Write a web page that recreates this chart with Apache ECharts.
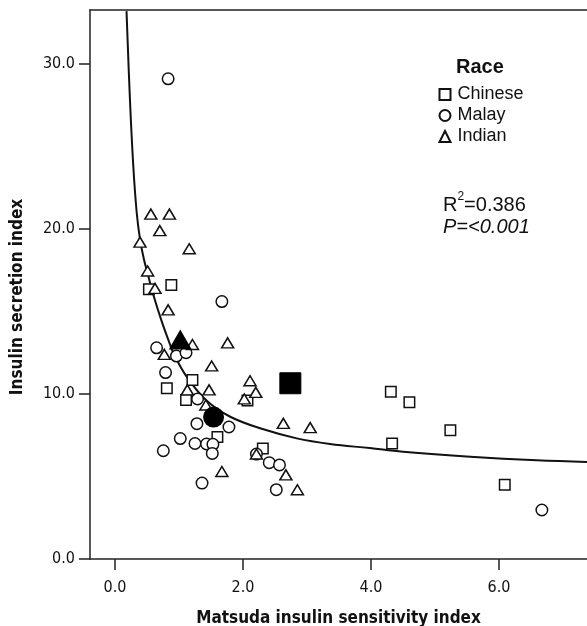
<!DOCTYPE html>
<html>
<head>
<meta charset="utf-8">
<script src="https://cdn.jsdelivr.net/npm/echarts@6/dist/echarts.min.js"></script>
<style>
html,body{margin:0;padding:0;background:#fff;}
#c{width:587px;height:626px;}
</style>
</head>
<body>
<div id="c"></div>
<script>
// ---- data ----
var xTicks = [0, 2, 4, 6];
var yTicks = [0, 10, 20, 30];
var chinese = [[0.53,16.35],[0.88,16.6],[1.21,10.85],[0.81,10.35],[1.11,9.64],[2.07,9.6],[1.60,7.4],[2.31,6.7],[4.31,10.14],[4.60,9.5],[5.24,7.8],[4.33,7.0],[6.09,4.5]];
var malay = [[0.83,29.1],[1.67,15.6],[0.65,12.8],[0.96,12.3],[1.11,12.5],[0.79,11.3],[1.29,9.7],[1.28,8.2],[1.78,8.0],[1.02,7.3],[1.25,7.0],[1.43,6.97],[1.53,6.95],[0.755,6.56],[1.52,6.4],[2.21,6.36],[2.41,5.84],[2.57,5.7],[1.36,4.6],[2.52,4.2],[6.67,2.97]];
var indian = [[0.56,20.9],[0.85,20.9],[0.70,19.9],[0.39,19.2],[1.16,18.8],[0.51,17.45],[0.625,16.4],[0.83,15.1],[1.21,13.0],[1.76,13.1],[0.77,12.4],[1.51,11.7],[2.11,10.8],[1.13,10.25],[1.47,10.25],[2.20,10.1],[2.02,9.7],[1.42,9.33],[2.63,8.22],[3.05,7.96],[2.21,6.36],[1.67,5.3],[2.67,5.1],[2.85,4.2]];
var meanChinese = [[2.74,10.65]];
var meanMalay = [[1.54,8.6]];
var meanIndian = [[1.02,13.3]];
var fitCurve = [[0.18,33.2],[0.234,27.8],[0.286,23.8],[0.339,21.0],[0.39,19.4],[0.45,18.2],[0.51,17.3],[0.60,16.0],[0.73,14.4],[0.86,13.0],[0.91,12.5],[1.12,11.05],[1.43,9.6],[1.80,8.62],[2.32,7.86],[2.84,7.31],[3.36,6.97],[3.98,6.72],[4.5,6.5],[5.55,6.2],[6.59,5.98],[7.375,5.88]];
var seriesNames = ['Chinese', 'Malay', 'Indian'];
var xName = 'Matsuda insulin sensitivity index';
var yName = 'Insulin secretion index';

var INK = '#111';
var tickFont = "'DejaVu Sans Condensed','DejaVu Sans',sans-serif";
var arial = "'Liberation Sans',Arial,sans-serif";

var chart = echarts.init(document.getElementById('c'), null, {renderer: 'canvas'});
var openStyle = {color: '#fff', borderColor: INK, borderWidth: 1.5, opacity: 1};
var axisLineStyle = {color: '#222', width: 1.5};

chart.setOption({
  animation: false,
  backgroundColor: '#fff',
  grid: {left: 90, top: 10, right: 0, bottom: 67, show: false, containLabel: false, outerBoundsMode: 'none'},
  xAxis: [{
    type: 'value', min: -0.3906, max: 7.375,
    splitLine: {show: false},
    axisLine: {show: true, onZero: false, lineStyle: axisLineStyle},
    axisTick: {show: true, length: 11, lineStyle: axisLineStyle, customValues: xTicks},
    axisLabel: {customValues: xTicks, formatter: function (v) { return v.toFixed(1); }, margin: 21, color: INK, fontSize: 16, fontFamily: tickFont},
    name: xName, nameLocation: 'middle', nameGap: 51,
    nameTextStyle: {fontSize: 17, fontWeight: 'bold', color: INK, fontFamily: tickFont}
  }, {
    type: 'value', position: 'top', min: -0.3906, max: 7.375,
    splitLine: {show: false},
    axisLine: {show: true, onZero: false, lineStyle: axisLineStyle},
    axisTick: {show: false}, axisLabel: {show: false}
  }],
  yAxis: {
    type: 'value', min: 0, max: 33.27,
    splitLine: {show: false},
    axisLine: {show: true, onZero: false, lineStyle: axisLineStyle},
    axisTick: {show: true, length: 11, lineStyle: axisLineStyle, customValues: yTicks},
    axisLabel: {customValues: yTicks, formatter: function (v) { return v.toFixed(1); }, margin: 15, color: INK, fontSize: 16, fontFamily: tickFont}
  },
  legend: {
    orient: 'vertical', left: 438.5, top: 85.5, padding: 0,
    data: seriesNames,
    itemWidth: 11, itemHeight: 11, itemGap: 3,
    textStyle: {fontSize: 18, lineHeight: 18, color: INK, fontFamily: arial, padding: [0, 0, 0, 2]}
  },
  graphic: [
    {type: 'text', left: 456, top: 57.5, style: {text: 'Race', font: "bold 20px 'Liberation Sans', Arial, sans-serif", fill: INK}},
    {type: 'text', left: 443, top: 191, style: {
      text: '{r|R}{s|2}{r|=0.386}',
      rich: {r: {fontSize: 20, fontFamily: arial, fill: INK, lineHeight: 24, verticalAlign: 'bottom'},
             s: {fontSize: 12, fontFamily: arial, fill: INK, lineHeight: 24, verticalAlign: 'top'}}
    }},
    {type: 'text', left: 443, top: 217, style: {text: 'P=<0.001', font: "italic 20px 'Liberation Sans', Arial, sans-serif", fill: INK}},
    {type: 'text', x: 18, y: 297, rotation: Math.PI / 2, style: {text: yName, font: "bold 17px 'DejaVu Sans Condensed','DejaVu Sans',sans-serif", fill: INK, align: 'center', verticalAlign: 'middle'}}
  ],
  series: [
    {name: 'fit', type: 'line', data: fitCurve, smooth: 0.4, showSymbol: false, symbol: 'none', lineStyle: {color: INK, width: 2}, z: 1, silent: true},
    {name: seriesNames[0], type: 'scatter', data: chinese, symbol: 'rect', symbolSize: 10.5, itemStyle: openStyle, z: 3},
    {name: seriesNames[1], type: 'scatter', data: malay, symbol: 'circle', symbolSize: 11.5, itemStyle: openStyle, z: 3},
    {name: seriesNames[2], type: 'scatter', data: indian, symbol: 'triangle', symbolSize: [12, 10], itemStyle: openStyle, z: 3},
    {name: 'meanChinese', type: 'scatter', data: meanChinese, symbol: 'rect', symbolSize: 21, itemStyle: {color: '#000', borderColor: '#000', borderWidth: 1, opacity: 1}, z: 4},
    {name: 'meanMalay', type: 'scatter', data: meanMalay, symbol: 'circle', symbolSize: 21, itemStyle: {color: '#000', opacity: 1}, z: 4},
    {name: 'meanIndian', type: 'scatter', data: meanIndian, symbol: 'triangle', symbolSize: [23, 20], itemStyle: {color: '#000', opacity: 1}, z: 4}
  ]
});
</script>
</body>
</html>
